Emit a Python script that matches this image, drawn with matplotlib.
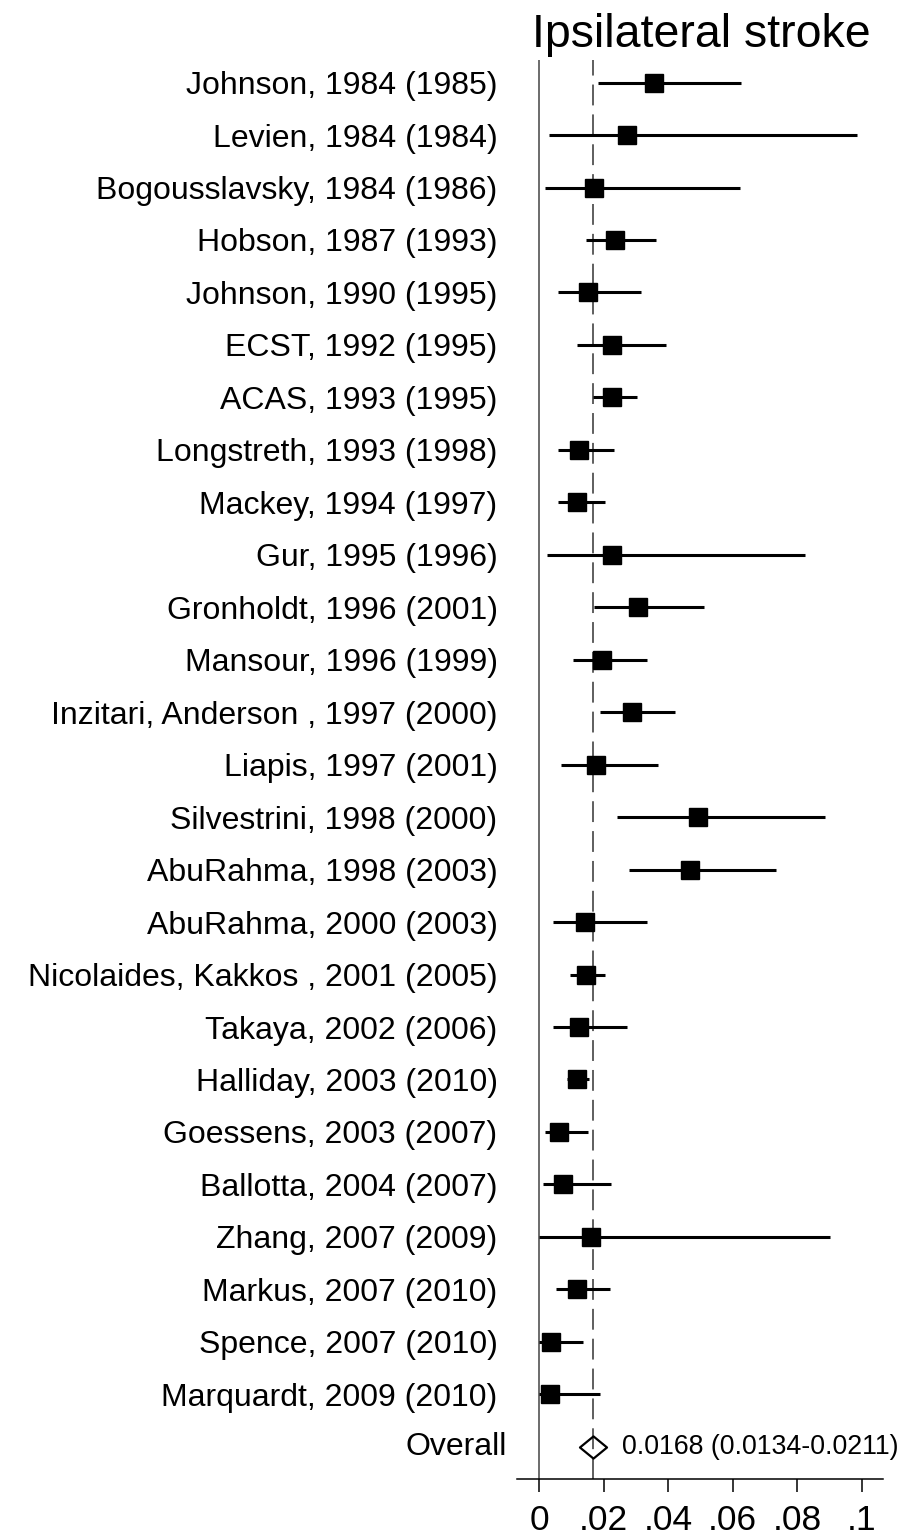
import matplotlib
matplotlib.use("Agg")
import matplotlib.pyplot as plt
from matplotlib.path import Path

plt.rcParams['font.family'] = ['Liberation Sans', 'DejaVu Sans']
plt.rcParams['lines.scale_dashes'] = False

# studies, top to bottom
studies = [
    "Johnson, 1984 (1985)", "Levien, 1984 (1984)", "Bogousslavsky, 1984 (1986)",
    "Hobson, 1987 (1993)", "Johnson, 1990 (1995)", "ECST, 1992 (1995)",
    "ACAS, 1993 (1995)", "Longstreth, 1993 (1998)", "Mackey, 1994 (1997)",
    "Gur, 1995 (1996)", "Gronholdt, 1996 (2001)", "Mansour, 1996 (1999)",
    "Inzitari, Anderson , 1997 (2000)", "Liapis, 1997 (2001)",
    "Silvestrini, 1998 (2000)", "AbuRahma, 1998 (2003)", "AbuRahma, 2000 (2003)",
    "Nicolaides, Kakkos , 2001 (2005)", "Takaya, 2002 (2006)",
    "Halliday, 2003 (2010)", "Goessens, 2003 (2007)", "Ballotta, 2004 (2007)",
    "Zhang, 2007 (2009)", "Markus, 2007 (2010)", "Spence, 2007 (2010)",
    "Marquardt, 2009 (2010)",
]
est = [0.0355, 0.0271, 0.0170, 0.0236, 0.0150, 0.0227,
       0.0227, 0.0124, 0.0117, 0.0227, 0.0307, 0.0196,
       0.0288, 0.0177, 0.0493, 0.0467, 0.0141, 0.0145,
       0.0123, 0.0117, 0.0062, 0.0075, 0.0161, 0.0117,
       0.0037, 0.0033]
lower = [0.0181, 0.0030, 0.0017, 0.0145, 0.0057, 0.0118,
         0.0166, 0.0057, 0.0059, 0.0024, 0.0169, 0.0105,
         0.0187, 0.0068, 0.0242, 0.0278, 0.0042, 0.0096,
         0.0042, 0.0086, 0.0017, 0.0012, 0.0000, 0.0052,
         0.0000, 0.0000]
upper = [0.0627, 0.0984, 0.0622, 0.0363, 0.0314, 0.0393,
         0.0302, 0.0233, 0.0205, 0.0825, 0.0511, 0.0333,
         0.0421, 0.0367, 0.0885, 0.0733, 0.0333, 0.0203,
         0.0271, 0.0153, 0.0150, 0.0222, 0.0903, 0.0219,
         0.0137, 0.0188]

overall_est = 0.0168
overall_txt = "0.0168 (0.0134-0.0211)"

xticks = [0, 0.02, 0.04, 0.06, 0.08, 0.1]
xtick_labels = ["0", ".02", ".04", ".06", ".08", ".1"]

fig = plt.figure(figsize=(9.07, 15.35), dpi=100)
ax = fig.add_axes([0.570, 0.0363, 0.4035, 0.9246])

ypos = list(range(1, len(studies) + 1))
overall_y = len(studies) + 1

# เส้นอ้างอิง
ax.axvline(0, color="#444444", lw=1.1, zorder=1)
ax.axvline(overall_est, color="#333333", lw=1.1, linestyle=(0, (15, 6.5)), zorder=1)

# CI + จุดประมาณ
ax.hlines(ypos, lower, upper, color="black", lw=2.2, zorder=2)
ax.plot(est, ypos, "s", color="black", ms=13, zorder=3)

# overall diamond
diamond = Path([(-1, 0), (0, 0.82), (1, 0), (0, -0.82), (-1, 0)],
               [Path.MOVETO, Path.LINETO, Path.LINETO, Path.LINETO, Path.CLOSEPOLY])
ax.plot([overall_est], [overall_y], marker=diamond, ms=19.5, mfc="none",
        mec="black", mew=1.6, zorder=3, linestyle="none")
ax.annotate(overall_txt, xy=(overall_est, overall_y), xytext=(20.5, 0),
            textcoords="offset points", ha="left", va="center", fontsize=19.3)
ax.annotate("Overall", xy=(0, overall_y), xycoords=("axes fraction", "data"),
            xytext=(-7.2, 0), textcoords="offset points", ha="right",
            va="center", fontsize=23)

ax.set_xlim(-0.00692, 0.1066)
ax.set_ylim(overall_y + 0.62, 0.57)

ax.set_yticks(ypos)
ax.set_yticklabels(studies, fontsize=23)
ax.tick_params(axis="y", length=0, pad=14)

ax.set_xticks(xticks)
ax.set_xticklabels(xtick_labels, fontsize=25.5)
ax.tick_params(axis="x", length=9.5, width=1.1, pad=8.5)

for s in ["top", "right", "left"]:
    ax.spines[s].set_visible(False)
ax.spines["bottom"].set_linewidth(1.1)

fig.text(701 / 907, 1 - 46.7 / 1535, "Ipsilateral stroke", ha="center",
         va="baseline", fontsize=33.5)

fig.savefig("out.png", dpi=100)
